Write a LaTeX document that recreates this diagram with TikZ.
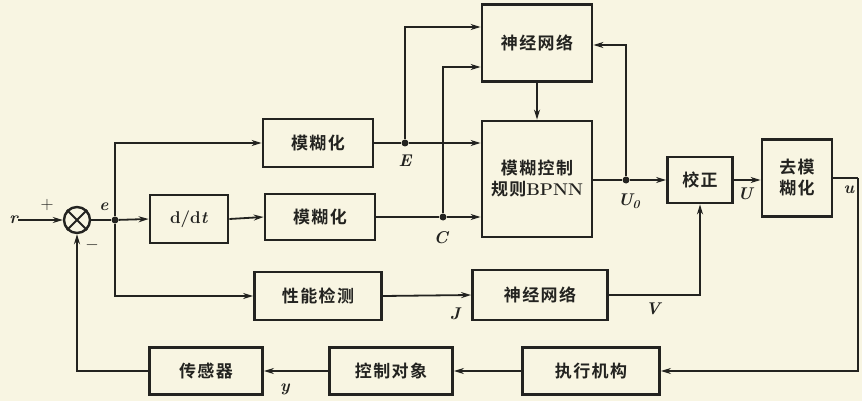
\documentclass[tikz,border=0pt]{standalone}
\usepackage{fontspec}
\newfontfamily\cjk[LetterSpace=8]{Noto Sans CJK SC Bold}
\usetikzlibrary{arrows.meta}
\definecolor{paper}{RGB}{248,245,226}
\definecolor{ink}{RGB}{35,35,32}
\tikzset{
  blk/.style={draw=ink, line width=2.8pt, minimum width=#1, inner sep=0pt, font=\cjk\fontsize{17}{21}\selectfont, text=ink, align=center},
  ln/.style={draw=ink, line width=1.8pt},
  arr/.style={ln, -{Stealth[length=10pt,width=6pt]}},
  dot/.style={circle, fill=ink, inner sep=0pt, minimum size=7pt},
  lab/.style={font=\fontsize{17}{19}\selectfont\bfseries\itshape, text=ink, inner sep=0pt},
}
\begin{document}
\begin{tikzpicture}[x=1pt,y=-1pt]
\fill[paper] (0,0) rectangle (862,401);
\useasboundingbox (0,0) rectangle (862,401);
% blocks
\node[blk=78pt, minimum height=48pt] (ddt) at (189,219) {\rmfamily\bfseries\fontsize{17}{19}\selectfont d/d\textit{t}};
\node[blk=110pt, minimum height=48pt] (fz1) at (318,143) {模糊化};
\node[blk=110pt, minimum height=46pt] (fz2) at (320,217) {模糊化};
\node[blk=110pt, minimum height=77pt] (nn1) at (537,43) {神经网络};
\node[blk=110pt, minimum height=116pt] (bp) at (537,179) {模糊控制\\规则{\rmfamily\bfseries\fontsize{17}{21}\selectfont BPNN}};
\node[blk=65pt, minimum height=46pt] (jz) at (700,180) {校正};
\node[blk=70pt, minimum height=77pt] (qfz) at (797,178) {去模\\糊化};
\node[blk=127pt, minimum height=48pt] (xn) at (318,296) {性能检测};
\node[blk=135pt, minimum height=50pt] (nn2) at (540,295) {神经网络};
\node[blk=137pt, minimum height=47pt] (zx) at (591,371) {执行机构};
\node[blk=123pt, minimum height=47pt] (kz) at (391,371) {控制对象};
\node[blk=113pt, minimum height=47pt] (cg) at (206,371) {传感器};
% summing junction
\node[circle, draw=ink, line width=2.4pt, minimum size=26pt, inner sep=0pt] (sum) at (77,220) {};
\draw[ink, line width=1.8pt] (sum.north west) -- (sum.south east) (sum.north east) -- (sum.south west);
% junction points
\node[dot] (ej) at (115,220) {};
\node[dot] (Ej) at (405,143) {};
\node[dot] (Cj) at (443,217) {};
\node[dot] (Uj) at (626,180) {};
\coordinate (rin) at (18,220);
\coordinate (uc) at (858,178);
% connectors
\draw[arr] (rin) -- (sum.west);
\draw[ln] (sum.east) -- (ej);
\draw[arr] (ej) -- (ddt.west);
\draw[arr] (ej) |- (fz1.west);
\draw[arr] (ej) |- (xn.west);
\draw[arr] (ddt.east) -- (fz2.west);
\draw[ln] (fz1.east |- Ej) -- (Ej);
\draw[arr] (Ej) -- (bp.west |- Ej);
\draw[arr] (Ej) |- (nn1.west |- 0,27);
\draw[ln] (fz2.east |- Cj) -- (Cj);
\draw[arr] (Cj) -- (bp.west |- Cj);
\draw[arr] (Cj) |- (nn1.west |- 0,67);
\draw[arr] (nn1.south) -- (bp.north);
\draw[ln] (bp.east |- Uj) -- (Uj);
\draw[arr] (Uj) -- (jz.west);
\draw[arr] (Uj) |- (nn1.east |- 0,45);
\draw[arr] (jz.east) -- (qfz.west |- jz.east);
\draw[ln] (qfz.east) -- (uc);
\draw[arr] (uc) |- (zx.east);
\draw[arr] (xn.east) -- (nn2.west);
\draw[arr] (nn2.east) -| (jz.south);
\draw[arr] (zx.west) -- (kz.east);
\draw[arr] (kz.west) -- (cg.east);
\draw[arr] (cg.west) -| (sum.south);
% labels
\node[lab, anchor=east] at (rin) {r};
\node[lab, font=\fontsize{18}{20}\selectfont] at (47,205) {+};
\node[lab, font=\fontsize{18}{20}\selectfont] at (92,245) {$-$};
\node[lab] at (104,207) {e};
\node[lab] at (405,161) {E};
\node[lab] at (441,238) {C};
\node[lab] at (629,201) {U\textsubscript{0}};
\node[lab] at (745,194) {U};
\node[lab] at (849,190) {u};
\node[lab] at (455,314) {J};
\node[lab] at (653,309) {V};
\node[lab] at (285,389) {y};
\end{tikzpicture}
\end{document}
